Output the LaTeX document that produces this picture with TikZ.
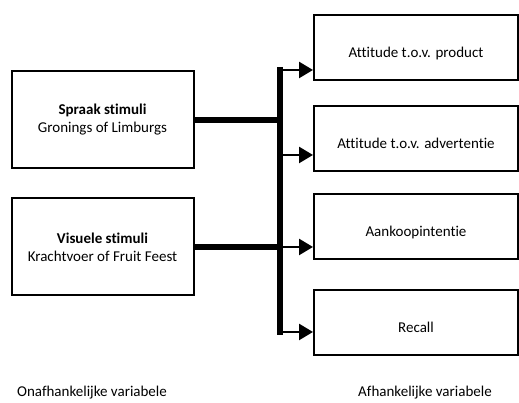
\documentclass[tikz,border=0pt]{standalone}
\usepackage{fontspec}
\setmainfont{Carlito}[Ligatures=NoCommon]
\usetikzlibrary{arrows.meta}
\begin{document}
\begin{tikzpicture}[x=1pt,y=1pt,>={Triangle[length=14pt,width=16pt]},line join=miter,font=\fontsize{15}{18}\selectfont,
	ivbox/.style={draw,line width=2pt,minimum width=182pt,minimum height=97pt,align=center,inner sep=0pt},
	dvbox/.style={draw,line width=2pt,minimum width=204pt,minimum height=65pt,text height=20pt,text depth=0pt,inner sep=0pt},
	link/.style={line width=6.5pt},
	feed/.style={line width=2.5pt,->}]
			\useasboundingbox (0,0) rectangle (519,403);
			% independent variables
			\node [ivbox] (spraak) at (102.5,283) {\textbf{Spraak stimuli}\\Gronings of Limburgs};
			\node [ivbox] (visueel) at (102.5,156) {\textbf{Visuele stimuli}\\Krachtvoer of Fruit Feest};
			% dependent variables
			\node [dvbox] (product) at (416,355) {Attitude t.o.v. product};
			\node [dvbox] (advert) at (416,264.5) {Attitude t.o.v. advertentie};
			\node [dvbox] (koop) at (416,176) {Aankoopintentie};
			\node [dvbox] (recall) at (416,80) {Recall};
			% bar
			\coordinate (bartop) at (280,336);
			\coordinate (barbot) at (280,68);
			\draw [link] (bartop) -- (barbot);
			\draw [link] (spraak.east) -- (spraak.east -| bartop);
			\draw [link] (visueel.east) -- (visueel.east -| bartop);
			\coordinate (a1) at (280,333);
			\coordinate (a2) at (280,248);
			\coordinate (a3) at (280,156);
			\coordinate (a4) at (280,71);
			\draw [feed] (a1) -- (a1 -| product.west);
			\draw [feed] (a2) -- (a2 -| advert.west);
			\draw [feed] (a3) -- (a3 -| koop.west);
			\draw [feed] (a4) -- (a4 -| recall.west);
			% captions
			\node [anchor=base] (onafh) at (92,6) {Onafhankelijke variabele};
			\node [anchor=base] (afh) at (425,6) {Afhankelijke variabele};
		\end{tikzpicture}
\end{document}
